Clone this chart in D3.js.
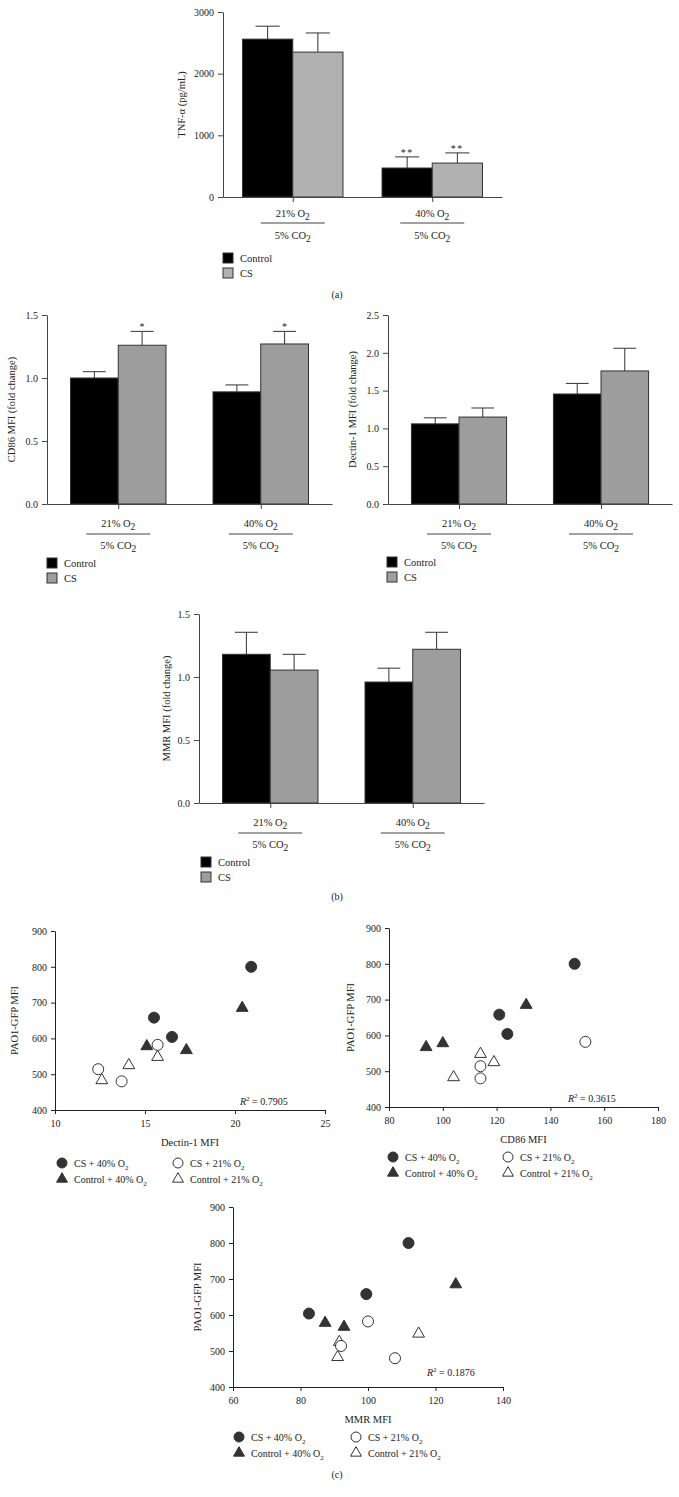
<!DOCTYPE html>
<html><head><meta charset="utf-8">
<script src="https://cdn.jsdelivr.net/npm/d3@7"></script>
<style>body{margin:0;background:#fff}svg{display:block}</style>
</head><body>
<script>
// ---------- DATA ----------
const groups = ["21", "40"];               // % O2
const legendBar = ["Control", "CS"];

const tnfControl = [2560, 470];
const tnfControlErr = [210, 180];
const tnfCS = [2350, 550];
const tnfCSErr = [310, 165];
const tnfStars = ["", "**"];
const tnfTicks = [0, 1000, 2000, 3000];

const cd86Control = [1.00, 0.89];
const cd86ControlErr = [0.05, 0.055];
const cd86CS = [1.26, 1.27];
const cd86CSErr = [0.11, 0.10];
const cd86Stars = ["*", "*"];
const cd86Ticks = [0, 0.5, 1.0, 1.5];

const dectinControl = [1.06, 1.455];
const dectinControlErr = [0.08, 0.14];
const dectinCS = [1.15, 1.76];
const dectinCSErr = [0.12, 0.30];
const dectinTicks = [0, 0.5, 1.0, 1.5, 2.0, 2.5];

const mmrControl = [1.18, 0.96];
const mmrControlErr = [0.175, 0.11];
const mmrCS = [1.055, 1.22];
const mmrCSErr = [0.125, 0.135];
const mmrTicks = [0, 0.5, 1.0, 1.5];

// scatter: PAO1-GFP MFI per group (3 samples each)
const paoCS40 = [800, 658, 604];
const paoCtl40 = [685, 578, 567];
const paoCS21 = [582, 514, 480];
const paoCtl21 = [548, 525, 483];

const dectinCS40 = [20.9, 15.5, 16.5];
const dectinCtl40 = [20.4, 15.1, 17.3];
const dectinCS21 = [15.7, 12.4, 13.7];
const dectinCtl21 = [15.7, 14.1, 12.6];

const cd86CS40 = [149, 121, 124];
const cd86Ctl40 = [131, 100, 93.8];
const cd86CS21 = [153, 114, 114];
const cd86Ctl21 = [114, 119, 104];

const mmrCS40 = [112, 99.5, 82.5];
const mmrCtl40 = [126, 87.3, 92.9];
const mmrCS21 = [100, 92, 108];
const mmrCtl21 = [115, 91.5, 91];

const paoTicks = [400, 500, 600, 700, 800, 900];
const dectinXTicks = [10, 15, 20, 25];
const cd86XTicks = [80, 100, 120, 140, 160, 180];
const mmrXTicks = [60, 80, 100, 120, 140];
const r2Values = ["0.7905", "0.3615", "0.1876"];

// ---------- DRAWING ----------
const FONT = "'Liberation Serif', 'DejaVu Serif', serif";
const svg = d3.select("body").append("svg").attr("width", 679).attr("height", 1497)
  .style("font-family", FONT);
svg.append("rect").attr("width", 679).attr("height", 1497).attr("fill", "#fff");

function subText(g, x, y, main, sub, anchor, size, subSize, dy) {
  const t = g.append("text").attr("x", x).attr("y", y).attr("text-anchor", anchor || "start")
    .attr("font-size", size || 10).attr("fill", "#222");
  t.append("tspan").text(main);
  if (sub) t.append("tspan").attr("font-size", subSize || 9).attr("dy", dy || 3).text(sub);
  return t;
}

function styleAxis(g, color) {
  g.attr("font-family", FONT).attr("font-size", 10);
  g.selectAll("path,line").attr("stroke", color);
  g.selectAll("text").attr("fill", "#222");
}

function barPanel(c) {
  const g = svg.append("g");
  const y = d3.scaleLinear().domain([0, c.max]).range([c.yBottom, c.yTop]);
  const x = d3.scalePoint().domain(groups).range([c.x0, c.x1]).padding(0.5);
  const bw = x.step() * c.barFrac;

  const series = [
    {v: c.control, e: c.controlErr, fill: "#000", off: -1},
    {v: c.cs, e: c.csErr, fill: c.csColor, off: 0}
  ];
  series.forEach(s => {
    groups.forEach((gr, i) => {
      const bx = x(gr) + s.off * bw;
      g.append("line").attr("x1", bx + bw / 2).attr("x2", bx + bw / 2)
        .attr("y1", y(s.v[i])).attr("y2", y(s.v[i] + s.e[i])).attr("stroke", "#333").attr("stroke-width", 1);
      g.append("line").attr("x1", bx + bw / 2 - bw * 0.24).attr("x2", bx + bw / 2 + bw * 0.24)
        .attr("y1", y(s.v[i] + s.e[i])).attr("y2", y(s.v[i] + s.e[i])).attr("stroke", "#333").attr("stroke-width", 1);
      g.append("rect").attr("x", bx).attr("y", y(s.v[i])).attr("width", bw)
        .attr("height", y(0) - y(s.v[i])).attr("fill", s.fill).attr("stroke", "#333").attr("stroke-width", 1);
    });
  });
  if (c.stars) {
    groups.forEach((gr, i) => {
      if (!c.stars[i]) return;
      if (c.starsBoth) {
        const bx0 = x(gr) - bw;
        g.append("text").attr("x", bx0 + bw / 2).attr("y", y(c.control[i] + c.controlErr[i]) - 1)
          .attr("text-anchor", "middle").attr("font-size", 10).attr("letter-spacing", 1.5).attr("fill", "#222").text(c.stars[i]);
      }
      g.append("text").attr("x", x(gr) + bw / 2).attr("y", y(c.cs[i] + c.csErr[i]) - 1)
        .attr("text-anchor", "middle").attr("font-size", 10).attr("letter-spacing", c.starsBoth ? 1.5 : 0).attr("fill", "#222").text(c.stars[i]);
    });
  }
  const ya = g.append("g").attr("transform", `translate(${c.x0},0)`)
    .call(d3.axisLeft(y).tickValues(c.ticks).tickSize(5).tickSizeOuter(0).tickPadding(4).tickFormat(c.fmt));
  styleAxis(ya, "#444");
  const xa = g.append("g").attr("transform", `translate(0,${c.yBottom})`)
    .call(d3.axisBottom(x).tickSize(5).tickSizeOuter(0).tickFormat(""));
  styleAxis(xa, "#444");

  g.append("text").attr("transform", `translate(${c.ytitleX},${(c.yTop + c.yBottom) / 2}) rotate(-90)`)
    .attr("text-anchor", "middle").attr("font-size", 10.5).attr("fill", "#222").text(c.ytitle);

  groups.forEach(gr => {
    const cx = x(gr);
    subText(g, cx, c.yBottom + c.lab[0], gr + "% O", "2", "middle", 10.5, 9.5, 3);
    g.append("line").attr("x1", cx - 32).attr("x2", cx + 32)
      .attr("y1", c.yBottom + c.lab[1]).attr("y2", c.yBottom + c.lab[1]).attr("stroke", "#444");
    subText(g, cx, c.yBottom + c.lab[2], "5% CO", "2", "middle", 10.5, 9.5, 3);
  });

  legendBar.forEach((name, i) => {
    const ly = c.legY + i * 15;
    g.append("rect").attr("x", c.legX).attr("y", ly - 5).attr("width", 10).attr("height", 10)
      .attr("fill", i === 0 ? "#000" : c.csColor).attr("stroke", "#333");
    g.append("text").attr("x", c.legX + 17).attr("y", ly + 4).attr("font-size", 10.5).attr("fill", "#222").text(name);
  });
}

barPanel({x0: 223, x1: 502, yTop: 12, yBottom: 197, max: 3000, ticks: tnfTicks, fmt: d3.format("d"),
  control: tnfControl, controlErr: tnfControlErr, cs: tnfCS, csErr: tnfCSErr, stars: tnfStars, starsBoth: true,
  ytitle: "TNF-α (pg/mL)", ytitleX: 185, csColor: "#b1b1b1", barFrac: 0.36, lab: [20, 26, 42], legX: 223, legY: 258});

barPanel({x0: 47, x1: 332, yTop: 315, yBottom: 504, max: 1.5, ticks: cd86Ticks, fmt: d3.format(".1f"),
  control: cd86Control, controlErr: cd86ControlErr, cs: cd86CS, csErr: cd86CSErr, stars: cd86Stars,
  ytitle: "CD86 MFI (fold change)", ytitleX: 15, csColor: "#9d9d9d", barFrac: 0.335, lab: [23, 30, 45], legX: 47, legY: 563});

barPanel({x0: 388, x1: 672, yTop: 315, yBottom: 504, max: 2.5, ticks: dectinTicks, fmt: d3.format(".1f"),
  control: dectinControl, controlErr: dectinControlErr, cs: dectinCS, csErr: dectinCSErr,
  ytitle: "Dectin-1 MFI (fold change)", ytitleX: 356, csColor: "#9d9d9d", barFrac: 0.335, lab: [23, 30, 45], legX: 387, legY: 562});

barPanel({x0: 199, x1: 484, yTop: 614, yBottom: 803, max: 1.5, ticks: mmrTicks, fmt: d3.format(".1f"),
  control: mmrControl, controlErr: mmrControlErr, cs: mmrCS, csErr: mmrCSErr,
  ytitle: "MMR MFI (fold change)", ytitleX: 170, csColor: "#9d9d9d", barFrac: 0.335, lab: [23, 30, 45], legX: 201, legY: 862});

svg.append("text").attr("x", 337).attr("y", 298).attr("text-anchor", "middle").attr("font-size", 10).attr("fill", "#222").text("(a)");
svg.append("text").attr("x", 337).attr("y", 900).attr("text-anchor", "middle").attr("font-size", 10).attr("fill", "#222").text("(b)");
svg.append("text").attr("x", 337).attr("y", 1478).attr("text-anchor", "middle").attr("font-size", 10).attr("fill", "#222").text("(c)");

const DARK = "#333";
const tri = d3.symbol().type(d3.symbolTriangle).size(60);
const triSmall = d3.symbol().type(d3.symbolTriangle).size(52);

function scatterPanel(c) {
  const g = svg.append("g");
  const x = d3.scaleLinear().domain(c.xDomain).range([c.x0, c.x1]);
  const y = d3.scaleLinear().domain([400, 900]).range([c.yBottom, c.yTop]);
  const xa = g.append("g").attr("transform", `translate(0,${c.yBottom})`)
    .call(d3.axisBottom(x).tickValues(c.xTicks).tickSize(4).tickSizeOuter(0).tickPadding(6).tickFormat(d3.format("d")));
  styleAxis(xa, "#222");
  const ya = g.append("g").attr("transform", `translate(${c.x0},0)`)
    .call(d3.axisLeft(y).tickValues(paoTicks).tickSize(4).tickSizeOuter(0).tickPadding(4).tickFormat(d3.format("d")));
  styleAxis(ya, "#222");

  g.append("text").attr("x", (c.x0 + c.x1) / 2).attr("y", c.yBottom + 36).attr("text-anchor", "middle")
    .attr("font-size", 10.5).attr("fill", "#222").text(c.xtitle);
  g.append("text").attr("transform", `translate(${c.ytitleX},${(c.yTop + c.yBottom) / 2}) rotate(-90)`)
    .attr("text-anchor", "middle").attr("font-size", 10.5).attr("fill", "#222").text("PAO1-GFP MFI");

  const sets = [
    {xs: c.ctl21, ys: paoCtl21, shape: "tri", fill: "#fff"},
    {xs: c.cs21, ys: paoCS21, shape: "circ", fill: "#fff"},
    {xs: c.ctl40, ys: paoCtl40, shape: "tri", fill: DARK},
    {xs: c.cs40, ys: paoCS40, shape: "circ", fill: DARK}
  ];
  sets.forEach(s => {
    s.xs.forEach((xv, i) => {
      if (s.shape === "circ") {
        g.append("circle").attr("cx", x(xv)).attr("cy", y(s.ys[i])).attr("r", 5.5)
          .attr("fill", s.fill).attr("stroke", DARK).attr("stroke-width", 1);
      } else {
        g.append("path").attr("d", tri).attr("transform", `translate(${x(xv)},${y(s.ys[i])})`)
          .attr("fill", s.fill).attr("stroke", DARK).attr("stroke-width", 1);
      }
    });
  });

  const t = g.append("text").attr("x", c.r2x).attr("y", c.r2y).attr("font-size", 10).attr("fill", "#222");
  t.append("tspan").attr("font-style", "italic").text("R");
  t.append("tspan").attr("font-size", 7).attr("dy", -4).text("2");
  t.append("tspan").attr("dy", 4).text(" = " + c.r2);

  const L = [
    {dx: 0, row: 0, shape: "circ", fill: DARK, label: "CS + 40% O"},
    {dx: c.legGap, row: 0, shape: "circ", fill: "#fff", label: "CS + 21% O"},
    {dx: 0, row: 1, shape: "tri", fill: DARK, label: "Control + 40% O"},
    {dx: c.legGap, row: 1, shape: "tri", fill: "#fff", label: "Control + 21% O"}
  ];
  L.forEach(l => {
    const lx = c.legX + l.dx, ly = c.legY + l.row * 16;
    if (l.shape === "circ") {
      g.append("circle").attr("cx", lx).attr("cy", ly).attr("r", 5).attr("fill", l.fill).attr("stroke", DARK);
    } else {
      g.append("path").attr("d", triSmall).attr("transform", `translate(${lx},${ly})`).attr("fill", l.fill).attr("stroke", DARK);
    }
    subText(g, lx + 12, ly + 4, l.label, "2", "start", 10, 7, 2.5);
  });
}

scatterPanel({x0: 55, x1: 325, yTop: 931, yBottom: 1110, xDomain: [10, 25], xTicks: dectinXTicks,
  xtitle: "Dectin-1 MFI", ytitleX: 18, cs40: dectinCS40, ctl40: dectinCtl40, cs21: dectinCS21, ctl21: dectinCtl21,
  r2: r2Values[0], r2x: 240, r2y: 1105, legX: 62, legY: 1163, legGap: 116});

scatterPanel({x0: 389, x1: 658, yTop: 928, yBottom: 1107, xDomain: [80, 180], xTicks: cd86XTicks,
  xtitle: "CD86 MFI", ytitleX: 354, cs40: cd86CS40, ctl40: cd86Ctl40, cs21: cd86CS21, ctl21: cd86Ctl21,
  r2: r2Values[1], r2x: 568, r2y: 1102, legX: 393, legY: 1157, legGap: 115});

scatterPanel({x0: 233, x1: 503, yTop: 1207, yBottom: 1387, xDomain: [60, 140], xTicks: mmrXTicks,
  xtitle: "MMR MFI", ytitleX: 201, cs40: mmrCS40, ctl40: mmrCtl40, cs21: mmrCS21, ctl21: mmrCtl21,
  r2: r2Values[2], r2x: 427, r2y: 1376, legX: 239, legY: 1437, legGap: 117});
</script>
</body></html>
